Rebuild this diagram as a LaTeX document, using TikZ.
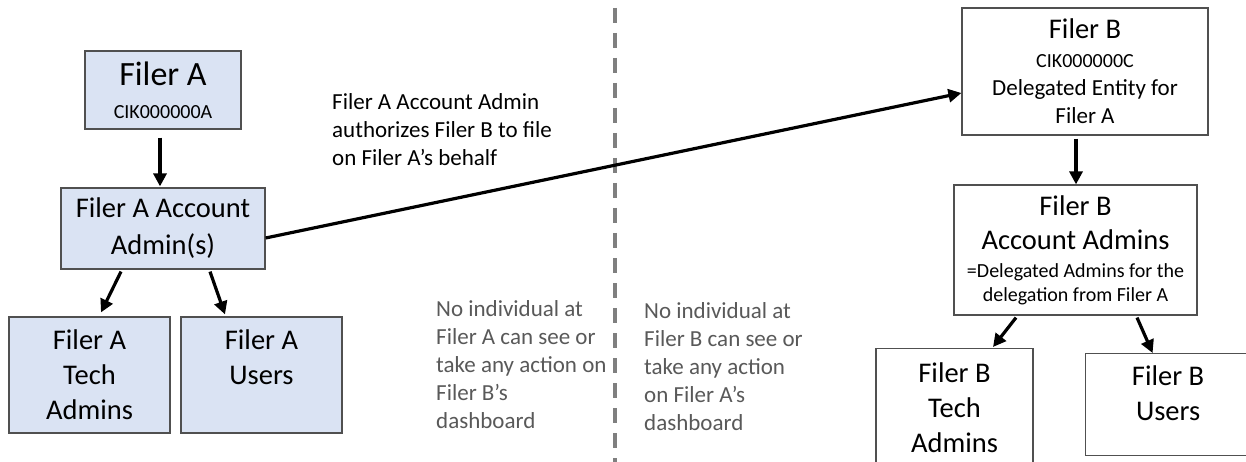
\documentclass[tikz,border=0pt]{standalone}
\usepackage{fontspec}
\setmainfont{Carlito}
\usetikzlibrary{arrows.meta,calc}
\definecolor{boxblue}{HTML}{DAE3F3}
\definecolor{boxline}{HTML}{505050}
\definecolor{notegray}{HTML}{595959}
\definecolor{dashgray}{HTML}{7F7F7F}
\newcommand{\fsz}[1]{\fontsize{#1}{#1}\selectfont}
\begin{document}
\begin{tikzpicture}[x=1pt,y=-1pt,
  bluebox/.style={draw=boxline, line width=1.2pt, fill=boxblue, inner sep=0pt, align=center},
  whitebox/.style={draw=boxline, line width=1.2pt, fill=white, inner sep=0pt, align=center},
  arr/.style={line width=3.2pt, -{Triangle[length=13pt,width=13pt]}},
  note/.style={align=left, anchor=west, inner sep=0pt, font=\fontsize{23}{28}\selectfont}]
\useasboundingbox (0,0) rectangle (1246,462);
\clip (0,0) rectangle (1246,462);
\fill[white] (0,0) rectangle (1246,462);

% separator
\draw[dashgray, line width=3.5pt, dash pattern=on 15pt off 10pt] (615,8) -- (615,470);

% Filer A side
\node[bluebox, minimum width=156pt, minimum height=78pt, font=\fontsize{20}{33}\selectfont] (FA) at (163,90)
  {\fsz{34}Filer A\\\fsz{20}CIK000000A};
\node[bluebox, minimum width=204pt, minimum height=81pt, font=\fontsize{28.5}{37}\selectfont] (AA) at (163,228.5)
  {Filer A Account\\Admin(s)};
\node[bluebox, minimum width=161pt, minimum height=116pt, font=\fontsize{28.5}{35}\selectfont] (TA) at (89.5,375)
  {Filer A\\Tech\\Admins};
\node[bluebox, minimum width=161pt, minimum height=116pt, font=\fontsize{28.5}{35}\selectfont] (UA) at (261.5,375)
  {Filer A\\Users\\\phantom{Admins}};

% Filer B side
\node[whitebox, minimum width=246pt, minimum height=127pt, font=\fontsize{23}{28}\selectfont] (FB) at (1085,71.5)
  {\fsz{28.5}Filer B\\[1pt]\fsz{20}CIK000000C\\\fsz{23}Delegated Entity for\\\fsz{23}Filer A};
\node[whitebox, minimum width=243pt, minimum height=130pt, font=\fontsize{20}{24}\selectfont] (AB) at (1075.5,250)
  {\fsz{28.5}Filer B\\[10pt]\fsz{28.5}Account Admins\\[4pt]\fsz{20}=Delegated Admins for the\\\fsz{20}delegation from Filer A};
\node[whitebox, minimum width=157pt, minimum height=118pt, anchor=north, font=\fontsize{28.5}{35}\selectfont] (TB) at (954.5,348)
  {Filer B\\Tech\\Admins};
\node[whitebox, minimum width=165pt, minimum height=102pt, anchor=north west, text depth=23pt, font=\fontsize{28.5}{35}\selectfont] (UB) at (1085,353)
  {Filer B\\Users};

% notes
\node[note, text=black] (N1) at (332,130) {Filer A Account Admin\\authorizes Filer B to file\\on Filer A’s behalf};
\node[note, text=notegray] (N2) at (436,365) {No individual at\\Filer A can see or\\take any action on\\Filer B’s\\dashboard};
\node[note, text=notegray] (N3) at (644,367) {No individual at\\Filer B can see or\\take any action\\on Filer A’s\\dashboard};

% connectors
\draw[arr] ($(FA.south)+(-3,8)$) -- ($(AA.north)+(-3,-1)$);
\draw[arr] ($(AA.south)+(-42,2)$) -- ($(TA.north)+(11.5,-4)$);
\draw[arr] ($(AA.south)+(47,2)$) -- ($(UA.north)+(-36.5,-2)$);
\draw[arr] ($(AA.east)+(0,9.5)$) -- ($(FB.west)+(0,21.5)$);
\draw[arr] ($(AB.north |- FB.south)+(0.5,3)$) -- ($(AB.north)+(0.5,0)$);
\draw[arr] ($(AB.south)+(-59.5,2)$) -- ($(TB.north)+(38.5,-1)$);
\draw[arr] ($(AB.south)+(61.5,2)$) -- ($(UB.north)+(-15.5,0)$);
\end{tikzpicture}
\end{document}
